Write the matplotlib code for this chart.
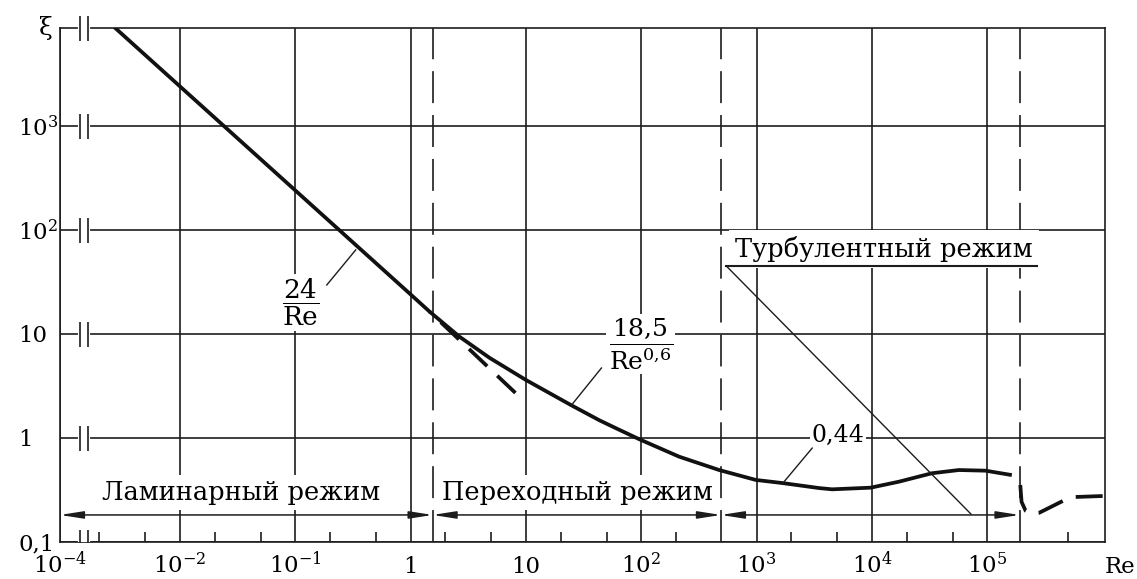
import matplotlib

matplotlib.use("Agg")
import matplotlib.pyplot as plt
import numpy as np
from matplotlib.patches import FancyArrowPatch

plt.rcParams["font.family"] = ["DejaVu Serif"]
plt.rcParams["mathtext.fontset"] = "dejavuserif"
plt.rcParams["lines.scale_dashes"] = False

INK = "#1c1c1c"
SQUEEZE = 0.04  # the decade 1e-4..1e-3 is drawn almost flat (axis break)

# drag curve (Re, xi)
curve_re = [0.0027, 1.0, 1.46, 2.65, 4.83, 10.0, 24.6, 43.3, 60.4, 96.2, 213,
            473, 984, 1664, 3480, 4510, 9750, 17100, 33000, 56600, 96400, 163000]
curve_xi = [8900, 24.0, 16.4, 9.42, 5.9, 3.61, 2.07, 1.48, 1.24, 0.972, 0.661,
            0.492, 0.395, 0.369, 0.330, 0.321, 0.333, 0.380, 0.458, 0.492, 0.485, 0.440]

# 24/Re continued past the laminar zone (dashed)
lam_re = [1.46, 8.28]
lam_xi = [16.4, 2.65]

# drag crisis (dashed)
crisis_re = [1.93e5, 1.98e5, 2.15e5, 2.43e5, 2.79e5, 4.51e5, 5.83e5, 1.02e6]
crisis_xi = [0.353, 0.243, 0.199, 0.186, 0.190, 0.248, 0.271, 0.277]

# regime boundaries
bounds_re = [1.55, 490, 1.9e5]
regimes = ["Ламинарный режим", "Переходный режим", "Турбулентный режим"]

x_ticks = [1e-4, 1e-2, 1e-1, 1, 10, 100, 1e3, 1e4, 1e5]
x_labels = [r"$10^{-4}$", r"$10^{-2}$", r"$10^{-1}$", "1", "10",
            r"$10^{2}$", r"$10^{3}$", r"$10^{4}$", r"$10^{5}$"]
x_minor = [2e-3, 5e-3, 2e-2, 5e-2, 0.2, 0.5, 2, 5, 20, 50, 200,
           2e3, 5e3, 2e4, 5e4, 5e5]
y_ticks = [0.1, 1, 10, 100, 1000]
y_labels = ["0,1", "1", "10", r"$10^{2}$", r"$10^{3}$"]


def to_axis(re):
    re = np.asarray(re, dtype=float)
    lg = np.log10(np.clip(re, 1e-300, None))
    return np.where(lg >= -3, lg, -3 + (lg + 3) * SQUEEZE)


def from_axis(u):
    u = np.asarray(u, dtype=float)
    with np.errstate(over="ignore"):
        return np.where(u >= -3, 10.0 ** u, 10.0 ** (-3 + (u + 3) / SQUEEZE))


fig = plt.figure(figsize=(11.37, 5.79), dpi=100)
ax = fig.add_axes([60 / 1137, 37 / 579, 1045 / 1137, 514 / 579])
ax.set_xscale("function", functions=(to_axis, from_axis))
ax.set_yscale("log")
ax.set_xlim(1e-4, 10 ** 6.02)
ax.set_ylim(0.1, 10 ** 3.942)

ax.set_xticks(x_ticks, x_labels)
ax.set_xticks(x_minor, minor=True)
ax.set_yticks(y_ticks, y_labels)
ax.set_yticks([], minor=True)
ax.tick_params(axis="x", which="major", length=0, pad=22.5, labelsize=16.5)
ax.tick_params(axis="x", which="minor", direction="in", length=7.2, width=1.2, color=INK)
ax.tick_params(axis="y", which="both", length=0, pad=30.2, labelsize=16.5)
for t in ax.get_xticklabels():
    t.set_va("baseline")
for t in ax.get_yticklabels():
    t.set_ha("left")
ax.grid(True, which="major", color=INK, lw=1.2)
for s in ax.spines.values():
    s.set_linewidth(1.2)
    s.set_color(INK)

ytop = ax.get_ylim()[1]
ax.text(-0.0067, ytop, "ξ", transform=ax.get_yaxis_transform(), ha="right",
        va="center", fontsize=18)
ax.text(1.0144, -0.0595, "Re", transform=ax.transAxes, ha="center",
        va="baseline", fontsize=16.5)

# axis-break marks on every horizontal line
for lvl in y_ticks + [ytop]:
    clip = lvl == y_ticks[0]
    ax.plot([0.0191, 0.0268], [lvl, lvl], color="white", lw=3,
            transform=ax.get_yaxis_transform(), clip_on=clip, zorder=5)
    ax.plot([0.0191, 0.0268], [lvl, lvl], ls="none", marker="|", ms=18, mew=1.2,
            color=INK, transform=ax.get_yaxis_transform(), clip_on=clip, zorder=6)

for b in bounds_re:
    ax.axvline(b, color=INK, lw=1.2, ls=(0, (23, 8.6)), zorder=2)

ax.plot(curve_re, curve_xi, color="#111111", lw=2.7, solid_joinstyle="round",
        solid_capstyle="butt", zorder=4)
ax.plot(lam_re, lam_xi, color="#111111", lw=2.7, ls=(16.9, (18, 10)), zorder=4)
ax.plot(crisis_re, crisis_xi, color="#111111", lw=2.7, ls=(0, (19.4, 9.8)),
        zorder=4)

# regime arrows
arrow_xi = 0.182
edges = [1e-4] + bounds_re
for a, b in zip(edges[:-1], edges[1:]):
    ax.add_patch(FancyArrowPatch((a, arrow_xi), (b, arrow_xi),
                                 arrowstyle="<|-|>,head_length=14,head_width=2.2",
                                 mutation_scale=1, lw=1.1, color=INK,
                                 shrinkA=0, shrinkB=0, clip_on=False, zorder=5))

box = dict(facecolor="white", edgecolor="none", boxstyle="square,pad=0.2")
ax.text(0.0337, 0.2535, regimes[0], ha="center", va="baseline", fontsize=18.5,
        bbox=box, zorder=3)
ax.text(27.7, 0.2535, regimes[1], ha="center", va="baseline", fontsize=18.5,
        bbox=box, zorder=3)
ax.text(12700, 54.9, regimes[2], ha="center", va="baseline", fontsize=18.5,
        bbox=dict(facecolor="white", edgecolor="none", boxstyle="square,pad=0.25"),
        zorder=3)

# turbulent shelf and its leader
ax.plot([545, 2.69e5], [45.1, 45.1], color=INK, lw=1.5, zorder=4)
ax.plot([545, 7.2e4], [45.1, 0.186], color=INK, lw=1.0, zorder=4)

# formula labels with leaders
tight = dict(facecolor="white", edgecolor="none", boxstyle="square,pad=0.1")
ax.text(0.1116, 20.1, r"$\dfrac{24}{\mathrm{Re}}$", ha="center", va="center",
        fontsize=19, bbox=tight, zorder=3)
ax.plot([0.1875, 0.334], [29.6, 64.3], color=INK, lw=1.0, zorder=4)

ax.text(99.0, 8.0, r"$\dfrac{18{,}5}{\mathrm{Re}^{0{,}6}}$", ha="center",
        va="center", fontsize=18, bbox=tight, zorder=3)
ax.plot([45.1, 24.8], [4.71, 2.07], color=INK, lw=1.0, zorder=4)

ax.text(5080, 0.915, "0,44", ha="center", va="baseline", fontsize=17,
        bbox=dict(facecolor="white", edgecolor="none", boxstyle="square,pad=0.05"),
        zorder=3)
ax.plot([3030, 1663], [0.80, 0.361], color=INK, lw=1.0, zorder=4)

fig.savefig("out.png", dpi=100)
